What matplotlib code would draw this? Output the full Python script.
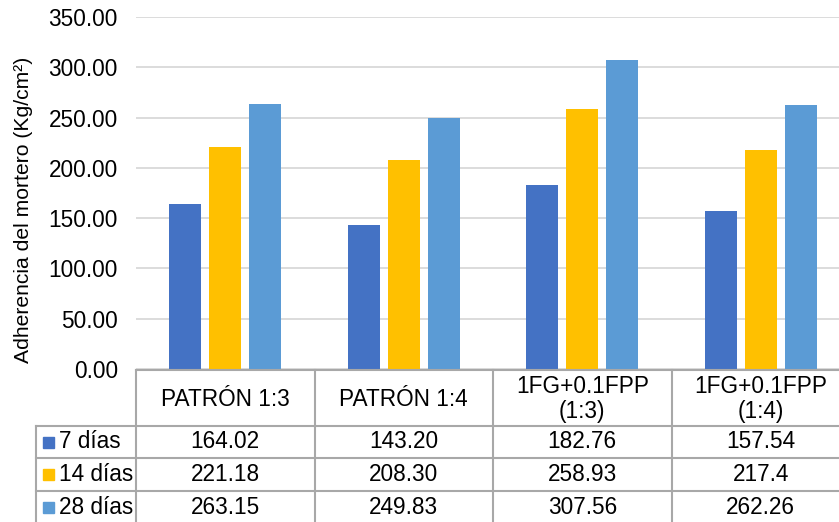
import matplotlib
matplotlib.use("Agg")
import matplotlib.pyplot as plt
import numpy as np

categories = ["PATRÓN 1:3", "PATRÓN 1:4", "1FG+0.1FPP\n(1:3)", "1FG+0.1FPP\n(1:4)"]
series_names = ["7 días", "14 días", "28 días"]
s7 = [164.02, 143.20, 182.76, 157.54]
s14 = [221.18, 208.30, 258.93, 217.4]
s28 = [263.15, 249.83, 307.56, 262.26]
table_labels = [["164.02", "143.20", "182.76", "157.54"],
                ["221.18", "208.30", "258.93", "217.4"],
                ["263.15", "249.83", "307.56", "262.26"]]
yticks = [0, 50, 100, 150, 200, 250, 300, 350]
ylabel = "Adherencia del mortero (Kg/cm²)"

colors = ["#4472C4", "#FFC000", "#5B9BD5"]
W, H = 839, 522
plt.rcParams['font.family'] = ['Liberation Sans', 'DejaVu Sans']
FS = 16.3

fig = plt.figure(figsize=(W / 100, H / 100), dpi=100)

# main axes (pixels): x 136..850, y 17..369 from top
L, R, T, B = 136, 850, 17, 369
ax = fig.add_axes([L / W, (H - B) / H, (R - L) / W, (B - T) / H])
x = np.arange(len(categories))
bw = 32 / 178.5
off = 40 / 178.5
for k, vals in enumerate([s7, s14, s28]):
    ax.bar(x + (k - 1) * off, vals, width=bw, color=colors[k], zorder=3)
ax.set_xlim(-0.5, len(categories) - 0.5)
ax.set_ylim(0, 350)
ax.set_yticks(yticks)
ax.set_yticklabels([f"{v:.2f}" for v in yticks], fontsize=FS)
ax.tick_params(axis='y', length=0, pad=13)
ax.set_xticks([])
ax.grid(axis='y', color='#D9D9D9', linewidth=1.3, zorder=0)
for s in ax.spines.values():
    s.set_visible(False)

fig.text(24 / W, 1 - 210 / H, ylabel, rotation=90, ha='center', va='center', fontsize=15.2)

# table overlay in pixel coordinates
ov = fig.add_axes([0, 0, 1, 1], zorder=5)
ov.set_xlim(0, W)
ov.set_ylim(H, 0)
ov.axis('off')
ov.patch.set_alpha(0)
lc = '#A8A8A8'
lw = 1.5
colw = (R - L) / len(categories)
col_edges = [L + i * colw for i in range(len(categories) + 1)]
row_top = 370
row_edges = [426, 458, 491, 523]
legend_left = 36
# horizontal lines
ov.plot([L, W + 5], [row_top, row_top], color=lc, lw=lw)
for y in row_edges[:-1]:
    ov.plot([legend_left, W + 5], [y, y], color=lc, lw=lw)
# vertical lines
ov.plot([legend_left, legend_left], [row_edges[0], H + 2], color=lc, lw=lw)
for cx in col_edges:
    ov.plot([cx, cx], [row_top, H + 2], color=lc, lw=lw)

# header text
for i, c in enumerate(categories):
    cx = (col_edges[i] + col_edges[i + 1]) / 2
    ov.text(cx, (row_top + row_edges[0]) / 2 + 1, c, ha='center', va='center',
            fontsize=FS, linespacing=1.15)

# rows
for r in range(3):
    yc = (row_edges[r] + row_edges[r + 1]) / 2
    ov.add_patch(plt.Rectangle((43, yc - 5.5), 11, 11, color=colors[r]))
    ov.text(59, yc, series_names[r], ha='left', va='center', fontsize=FS)
    for i in range(len(categories)):
        cx = (col_edges[i] + col_edges[i + 1]) / 2
        ov.text(cx, yc, table_labels[r][i], ha='center', va='center', fontsize=FS)

fig.savefig("out.png", dpi=100)
